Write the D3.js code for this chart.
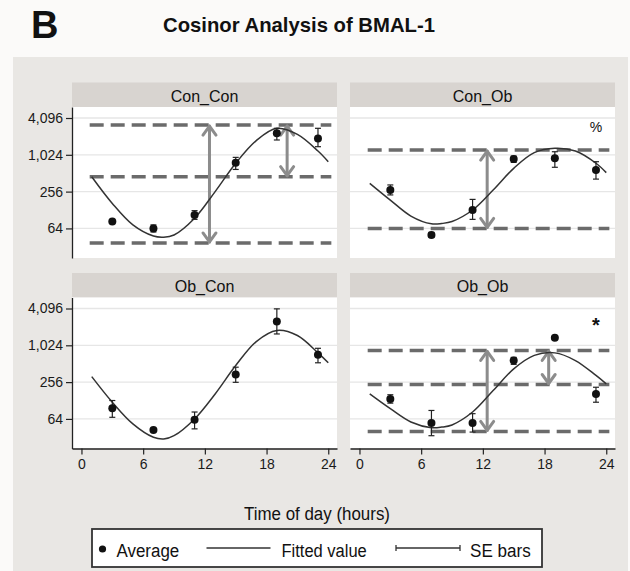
<!DOCTYPE html>
<html>
<head>
<meta charset="utf-8">
<script src="https://cdn.jsdelivr.net/npm/d3@7"></script>
<style>
  html, body { margin: 0; padding: 0; background: #fbfaf9; }
  svg { display: block; font-family: "Liberation Sans", Arial, Helvetica, sans-serif; }
</style>
</head>
<body>
<div id="chart"></div>
<script>
// panels
const panelNames = ["Con_Con", "Con_Ob", "Ob_Con", "Ob_Ob"];
const sampleHours = [3, 7, 11, 15, 19, 23];

const conConAvg = [83, 64, 106, 760, 2300, 1900];
const conConLow = [80, 56, 90, 590, 1790, 1390];
const conConHigh = [86, 73, 125, 930, 2780, 2780];

const conObAvg = [272, 50, 128, 875, 897, 577];
const conObLow = [226, 46, 90, 770, 640, 410];
const conObHigh = [329, 55, 191, 975, 1150, 790];

const obConAvg = [96, 42, 62, 340, 2500, 715];
const obConLow = [68, 41, 44, 254, 1570, 530];
const obConHigh = [128, 44, 83, 449, 4040, 915];

const obObAvg = [136, 55, 55, 577, 1360, 164];
const obObLow = [116, 34, 39, 500, 1300, 120];
const obObHigh = [159, 88, 78, 650, 1420, 211];

// fitted cosinor curve
const fitHours = [1, 3, 5, 7, 8, 9, 11, 13, 15, 17, 19, 21, 23, 24];
const conConFit = [449, 164, 73, 48, 46, 50, 94, 256, 745, 1750, 2780, 2210, 1180, 790];
const conObFit = [350, 186, 102, 76, 77, 83, 128, 272, 615, 1110, 1310, 1180, 745, 523];
const obConFit = [315, 120, 53, 32, 30, 34, 64, 164, 478, 1180, 1790, 1480, 770, 530];
const obObFit = [164, 94, 57, 46, 47, 51, 83, 186, 421, 700, 770, 577, 329, 240];

// dashed reference levels (max / mesor / min) and amplitude arrows [hour, from, to]
const conConLevels = [3140, 449, 37];
const conObLevels = [1225, 64];
const obConLevels = [];
const obObLevels = [845, 234, 40];

const conConArrows = [[12.45, 3140, 37], [20.0, 3140, 449]];
const conObArrows = [[12.42, 1225, 64]];
const obConArrows = [];
const obObArrows = [[12.42, 845, 40], [18.4, 845, 234]];

const panelNotes = ["", "%", "", "*"];
const noteHour = 23;
const noteValues = [0, 2950, 0, 2660];

const xTicks = [0, 6, 12, 18, 24];
const yTicks = [64, 256, 1024, 4096];

const panelAvg = [conConAvg, conObAvg, obConAvg, obObAvg];
const panelLow = [conConLow, conObLow, obConLow, obObLow];
const panelHigh = [conConHigh, conObHigh, obConHigh, obObHigh];
const panelFit = [conConFit, conObFit, obConFit, obObFit];
const panelLevels = [conConLevels, conObLevels, obConLevels, obObLevels];
const panelArrows = [conConArrows, conObArrows, obConArrows, obObArrows];

const width = 630, height = 571;
const colLeft = [72, 350];
const rowTop = [107, 297.5];
const panelW = 265, plotH = 151, headerH = 24.5;

const svg = d3.select("#chart").append("svg").attr("width", width).attr("height", height);

svg.append("rect").attr("x", 13).attr("y", 57).attr("width", 615).attr("height", height - 57).attr("fill", "#e9e7e4");

svg.append("text").attr("x", 31).attr("y", 38).attr("font-size", 38).attr("font-weight", "bold").attr("fill", "#111").text("B");
svg.append("text").attr("x", 163).attr("y", 32).attr("font-size", 21).attr("font-weight", "bold").attr("fill", "#111")
  .attr("textLength", 272).attr("lengthAdjust", "spacingAndGlyphs").text("Cosinor Analysis of BMAL-1");

panelNames.forEach((name, i) => {
  const col = i % 2, row = Math.floor(i / 2);
  const left = colLeft[col], top = rowTop[row];
  const x = d3.scaleLinear().domain([-0.92, 24.85]).range([left, left + panelW]);
  const y = d3.scaleLog().base(2).domain([21, 6200]).range([top + plotH, top]);
  const g = svg.append("g");

  g.append("rect").attr("x", left).attr("y", top - headerH).attr("width", panelW).attr("height", headerH).attr("fill", "#d8d4d0");
  g.append("text").attr("x", left + panelW / 2).attr("y", top - headerH + 19).attr("text-anchor", "middle")
    .attr("font-size", 16).attr("fill", "#111").text(name);
  g.append("rect").attr("x", left).attr("y", top).attr("width", panelW).attr("height", plotH).attr("fill", "#fff");

  g.append("g").selectAll("line").data(yTicks).join("line")
    .attr("x1", left).attr("x2", left + panelW)
    .attr("y1", (d) => y(d)).attr("y2", (d) => y(d))
    .attr("stroke", "#e6e6e6").attr("stroke-width", 1.3);

  if (col === 0) {
    const ax = g.append("g").attr("transform", `translate(${left},0)`)
      .call(d3.axisLeft(y).tickValues(yTicks).tickFormat(d3.format(",")).tickSize(6).tickSizeOuter(0).tickPadding(3));
    ax.select(".domain").attr("stroke", "#222").attr("stroke-width", 1.3);
    ax.selectAll(".tick line").attr("stroke", "#222").attr("stroke-width", 1.2);
    ax.selectAll("text").attr("font-size", 14).attr("fill", "#1a1a1a").attr("font-family", null);
  }
  if (row === 1) {
    const ax = g.append("g").attr("transform", `translate(0,${top + plotH})`)
      .call(d3.axisBottom(x).tickValues(xTicks).tickSize(6).tickSizeOuter(0).tickPadding(5));
    ax.select(".domain").attr("stroke", "#222").attr("stroke-width", 1.3);
    ax.selectAll(".tick line").attr("stroke", "#222").attr("stroke-width", 1.2);
    ax.selectAll("text").attr("font-size", 14).attr("fill", "#1a1a1a").attr("font-family", null);
  }

  g.append("g").selectAll("line").data(panelLevels[i]).join("line")
    .attr("x1", x(0.8)).attr("x2", x(24.3))
    .attr("y1", (d) => y(d)).attr("y2", (d) => y(d))
    .attr("stroke", "#6b6b6b").attr("stroke-width", 3.5).attr("stroke-dasharray", "14 7");

  const arrows = g.append("g").attr("stroke", "#8c8c8c").attr("stroke-width", 3).attr("fill", "none")
    .attr("stroke-linecap", "round").attr("stroke-linejoin", "round");
  panelArrows[i].forEach(([hour, from, to]) => {
    const cx = x(hour), y1 = y(from), y2 = y(to);
    arrows.append("line").attr("x1", cx).attr("x2", cx).attr("y1", y1 + 1).attr("y2", y2 - 1);
    arrows.append("path").attr("d", `M${cx - 6.5},${y1 + 10}L${cx},${y1 + 1}L${cx + 6.5},${y1 + 10}`);
    arrows.append("path").attr("d", `M${cx - 6.5},${y2 - 10}L${cx},${y2 - 1}L${cx + 6.5},${y2 - 10}`);
  });

  const fit = fitHours.map((h, k) => [h, panelFit[i][k]]);
  g.append("path").datum(fit).attr("fill", "none").attr("stroke", "#333").attr("stroke-width", 1.5)
    .attr("d", d3.line().x((d) => x(d[0])).y((d) => y(d[1])).curve(d3.curveCatmullRom.alpha(0.5)));

  const bars = g.append("g").attr("stroke", "#222").attr("stroke-width", 1.2);
  sampleHours.forEach((h, k) => {
    const cx = x(h), lo = y(panelLow[i][k]), hi = y(panelHigh[i][k]);
    bars.append("line").attr("x1", cx).attr("x2", cx).attr("y1", lo).attr("y2", hi);
    bars.append("line").attr("x1", cx - 3).attr("x2", cx + 3).attr("y1", lo).attr("y2", lo);
    bars.append("line").attr("x1", cx - 3).attr("x2", cx + 3).attr("y1", hi).attr("y2", hi);
  });

  g.append("g").selectAll("circle").data(sampleHours).join("circle")
    .attr("cx", (d) => x(d)).attr("cy", (d, k) => y(panelAvg[i][k])).attr("r", 4).attr("fill", "#111");

  if (panelNotes[i]) {
    const bold = panelNotes[i] === "*";
    g.append("text").attr("x", x(noteHour)).attr("y", y(noteValues[i]) + (bold ? 12 : 5))
      .attr("text-anchor", "middle").attr("font-size", bold ? 20 : 14).attr("font-weight", bold ? "bold" : "normal")
      .attr("fill", "#111").text(panelNotes[i]);
  }
});

svg.append("text").attr("x", 317).attr("y", 520).attr("text-anchor", "middle").attr("font-size", 18).attr("fill", "#111")
  .attr("textLength", 146).attr("lengthAdjust", "spacingAndGlyphs").text("Time of day (hours)");

// legend
const legend = svg.append("g");
legend.append("rect").attr("x", 92).attr("y", 529).attr("width", 450).attr("height", 38)
  .attr("fill", "#fff").attr("stroke", "#333").attr("stroke-width", 1.8);
legend.append("circle").attr("cx", 102.5).attr("cy", 549).attr("r", 3.6).attr("fill", "#111");
legend.append("text").attr("x", 116.5).attr("y", 557).attr("font-size", 18).attr("fill", "#111")
  .attr("textLength", 62.7).attr("lengthAdjust", "spacingAndGlyphs").text("Average");
legend.append("line").attr("x1", 206.5).attr("x2", 270.5).attr("y1", 548).attr("y2", 548).attr("stroke", "#333").attr("stroke-width", 1.4);
legend.append("text").attr("x", 281.5).attr("y", 557).attr("font-size", 18).attr("fill", "#111")
  .attr("textLength", 85.3).attr("lengthAdjust", "spacingAndGlyphs").text("Fitted value");
const se = legend.append("g").attr("stroke", "#333").attr("stroke-width", 1.3);
se.append("line").attr("x1", 396).attr("x2", 460).attr("y1", 548).attr("y2", 548);
se.append("line").attr("x1", 396).attr("x2", 396).attr("y1", 545).attr("y2", 551);
se.append("line").attr("x1", 460).attr("x2", 460).attr("y1", 545).attr("y2", 551);
legend.append("text").attr("x", 470).attr("y", 557).attr("font-size", 18).attr("fill", "#111")
  .attr("textLength", 60.7).attr("lengthAdjust", "spacingAndGlyphs").text("SE bars");
</script>
</body>
</html>
